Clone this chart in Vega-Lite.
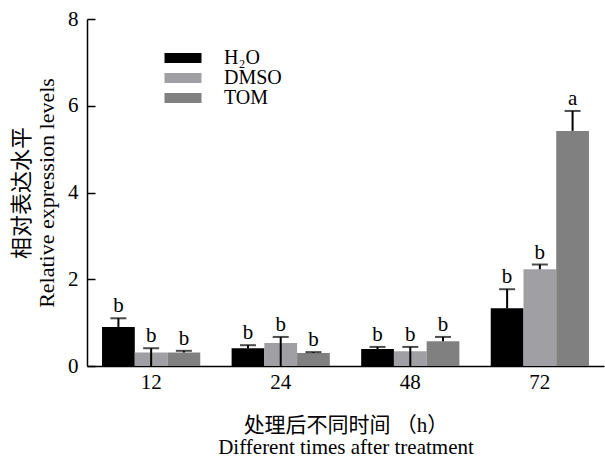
{
  "$schema": "https://vega.github.io/schema/vega-lite/v6.json",
  "width": 517,
  "height": 347,
  "autosize": "none",
  "padding": {"left": 87, "top": 19, "right": 1, "bottom": 92},
  "background": "white",
  "config": {
    "view": {"stroke": null},
    "font": "Liberation Serif, Noto Sans CJK SC",
    "axis": {"labelFont": "Liberation Serif", "titleFont": "Liberation Serif, Noto Sans CJK SC", "labelColor": "#000", "titleColor": "#000", "domainColor": "#000", "tickColor": "#000", "grid": false, "titleFontWeight": "normal"}
  },
  "data": {
    "values": [
      {"time": "12", "group": "H₂O", "value": 0.90, "lo": 0.90, "hi": 1.10, "sig": "b"},
      {"time": "12", "group": "DMSO", "value": 0.31, "lo": 0, "hi": 0.41, "sig": "b"},
      {"time": "12", "group": "TOM", "value": 0.31, "lo": 0.31, "hi": 0.35, "sig": "b"},
      {"time": "24", "group": "H₂O", "value": 0.41, "lo": 0.41, "hi": 0.48, "sig": "b"},
      {"time": "24", "group": "DMSO", "value": 0.53, "lo": 0, "hi": 0.67, "sig": "b"},
      {"time": "24", "group": "TOM", "value": 0.30, "lo": 0.30, "hi": 0.32, "sig": "b"},
      {"time": "48", "group": "H₂O", "value": 0.39, "lo": 0.39, "hi": 0.44, "sig": "b"},
      {"time": "48", "group": "DMSO", "value": 0.34, "lo": 0, "hi": 0.44, "sig": "b"},
      {"time": "48", "group": "TOM", "value": 0.57, "lo": 0.57, "hi": 0.67, "sig": "b"},
      {"time": "72", "group": "H₂O", "value": 1.33, "lo": 1.33, "hi": 1.77, "sig": "b"},
      {"time": "72", "group": "DMSO", "value": 2.23, "lo": 2.23, "hi": 2.34, "sig": "b"},
      {"time": "72", "group": "TOM", "value": 5.42, "lo": 5.42, "hi": 5.88, "sig": "a"}
    ]
  },
  "encoding": {
    "x": {
      "field": "time", "type": "nominal", "sort": ["12", "24", "48", "72"],
      "scale": {"paddingInner": 0.242, "paddingOuter": 0.116},
      "axis": {
        "labelAngle": 0, "ticks": false, "labelFontSize": 21, "labelPadding": 5, "domainWidth": 1.5,
        "title": ["处理后不同时间 （h）", "Different times after treatment"],
        "titleFontSize": 21, "titleLineHeight": 22, "titlePadding": 22
      }
    },
    "xOffset": {"field": "group", "type": "nominal", "sort": ["H₂O", "DMSO", "TOM"], "scale": {"paddingInner": 0, "paddingOuter": 0}}
  },
  "layer": [
    {
      "mark": {"type": "bar"},
      "encoding": {
        "y": {
          "field": "value", "type": "quantitative",
          "scale": {"domain": [0, 8], "nice": false},
          "axis": {
            "values": [0, 2, 4, 6, 8], "tickSize": -8, "tickWidth": 1.5, "domainWidth": 1.5,
            "labelFontSize": 21, "labelPadding": 17,
            "title": ["相对表达水平", "Relative expression levels"],
            "titleFontSize": 22, "titleLineHeight": 25, "titlePadding": 9
          }
        },
        "color": {
          "field": "group", "type": "nominal", "sort": ["H₂O", "DMSO", "TOM"],
          "scale": {"domain": ["H₂O", "DMSO", "TOM"], "range": ["#000000", "#a0a0a4", "#808080"]},
          "legend": {
            "title": null, "orient": "none", "legendX": 86, "legendY": 29, "padding": 0,
            "symbolType": "M-3.7,-1H3.7V1H-3.7Z", "symbolSize": 100, "symbolStrokeWidth": 0,
            "labelFont": "Liberation Serif", "labelFontSize": 20, "labelColor": "#000",
            "labelOffset": 31, "rowPadding": -1, "labelLimit": 200
          }
        }
      }
    },
    {
      "mark": {"type": "rule", "color": "#000", "strokeWidth": 2},
      "encoding": {
        "y": {"field": "lo", "type": "quantitative"},
        "y2": {"field": "hi"}
      }
    },
    {
      "mark": {"type": "tick", "color": "#000", "thickness": 2, "size": 16},
      "encoding": {
        "y": {"field": "hi", "type": "quantitative"}
      }
    },
    {
      "mark": {"type": "text", "baseline": "alphabetic", "dy": -6, "fontSize": 21, "font": "Liberation Serif", "color": "#000"},
      "encoding": {
        "y": {"field": "hi", "type": "quantitative"},
        "text": {"field": "sig"}
      }
    }
  ]
}
